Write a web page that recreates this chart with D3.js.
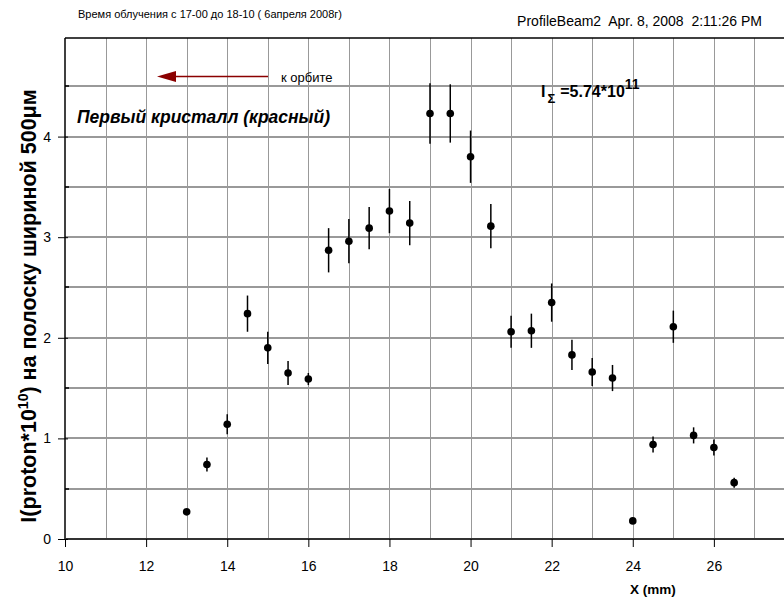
<!DOCTYPE html>
<html>
<head>
<meta charset="utf-8">
<script src="https://d3js.org/d3.v7.min.js"></script>
<style>
  body { margin: 0; background: #fff; }
  text { font-family: "Liberation Sans", Arial, sans-serif; }
</style>
</head>
<body>
<script>
// data
var xPos = [13, 13.5, 14, 14.5, 15, 15.5, 16, 16.5, 17, 17.5, 18, 18.5, 19, 19.5,
            20, 20.5, 21, 21.5, 22, 22.5, 23, 23.5, 24, 24.5, 25, 25.5, 26, 26.5];
var intensity = [0.27, 0.74, 1.14, 2.24, 1.90, 1.65, 1.59, 2.87, 2.96, 3.09, 3.26, 3.14, 4.23, 4.23,
                 3.80, 3.11, 2.06, 2.07, 2.35, 1.83, 1.66, 1.60, 0.18, 0.94, 2.11, 1.03, 0.91, 0.56];
var errors = [0.02, 0.07, 0.10, 0.18, 0.16, 0.12, 0.06, 0.22, 0.22, 0.21, 0.22, 0.22, 0.30, 0.29,
              0.26, 0.22, 0.16, 0.17, 0.19, 0.15, 0.14, 0.13, 0.02, 0.08, 0.16, 0.08, 0.08, 0.05];
var xTicks = [10, 12, 14, 16, 18, 20, 22, 24, 26];
var yTicks = [0, 1, 2, 3, 4];
var xGridValues = [11, 12, 13, 14, 15, 16, 17, 18, 19, 20, 21, 22, 23, 24, 25, 26, 27];
var yGridValues = [0.5, 1, 1.5, 2, 2.5, 3, 3.5, 4, 4.5];

var svgWidth = 784;
var svgHeight = 600;

// plot box (right side runs off the page, like in the original)
var plotLeft = 65, plotTop = 38, plotBottom = 539, plotRight = 795;

var svg = d3.select("body")
  .append("svg")
  .attr("width", svgWidth)
  .attr("height", svgHeight);

var x = d3.scaleLinear().domain([10, 28]).range([plotLeft, plotRight]);
var y = d3.scaleLinear().domain([0, 4.98]).range([plotBottom, plotTop]);

var points = xPos.map(function(d, i) {
  return { x: d, y: intensity[i], err: errors[i] };
});

// vertical grid
svg.append("g")
  .selectAll("line")
  .data(xGridValues)
  .enter()
  .append("line")
  .attr("x1", d => Math.round(x(d)) + 0.5).attr("x2", d => Math.round(x(d)) + 0.5)
  .attr("y1", plotTop).attr("y2", plotBottom)
  .attr("stroke", "#999")
  .attr("stroke-width", 1);

// horizontal grid
svg.append("g")
  .selectAll("line")
  .data(yGridValues)
  .enter()
  .append("line")
  .attr("x1", plotLeft).attr("x2", svgWidth)
  .attr("y1", d => Math.round(y(d))).attr("y2", d => Math.round(y(d)))
  .attr("stroke", "#999")
  .attr("stroke-width", 2);

// frame
svg.append("line")
  .attr("x1", plotLeft).attr("x2", svgWidth)
  .attr("y1", plotTop).attr("y2", plotTop)
  .attr("stroke", "#000").attr("stroke-width", 1.5);
svg.append("line")
  .attr("x1", plotLeft).attr("x2", plotLeft)
  .attr("y1", plotTop).attr("y2", plotBottom)
  .attr("stroke", "#000").attr("stroke-width", 1.5);

// minor ticks on y axis
svg.append("g")
  .selectAll("line")
  .data(yGridValues.filter(d => d % 1 !== 0))
  .enter()
  .append("line")
  .attr("x1", plotLeft).attr("x2", plotLeft + 4)
  .attr("y1", d => Math.round(y(d))).attr("y2", d => Math.round(y(d)))
  .attr("stroke", "#000")
  .attr("stroke-width", 1.5);

// axes
var bottomAxis = d3.axisBottom(x).tickValues(xTicks).tickSize(8).tickSizeOuter(0);
var leftAxis = d3.axisLeft(y).tickValues(yTicks).tickFormat(d3.format("d")).tickSize(7).tickSizeOuter(0);

var xAxisG = svg.append("g")
  .attr("transform", `translate(0, ${plotBottom})`)
  .call(bottomAxis);
xAxisG.select(".domain").attr("stroke", "#333").attr("stroke-width", 2)
  .attr("d", `M${plotLeft},0H${svgWidth}`);
xAxisG.selectAll("text").attr("font-size", 14).attr("fill", "#000").attr("dy", "1.5em");

var yAxisG = svg.append("g")
  .attr("transform", `translate(${plotLeft}, 0)`)
  .call(leftAxis);
yAxisG.select(".domain").remove();
yAxisG.selectAll(".tick line").attr("x2", -7).attr("x1", 3);
yAxisG.selectAll("text").attr("font-size", 14).attr("fill", "#000").attr("x", -14);

// error bars
svg.append("g")
  .selectAll("line")
  .data(points)
  .enter()
  .append("line")
  .attr("x1", d => x(d.x)).attr("x2", d => x(d.x))
  .attr("y1", d => y(d.y - d.err)).attr("y2", d => y(d.y + d.err))
  .attr("stroke", "#000")
  .attr("stroke-width", 1.5);

// points
svg.append("g")
  .selectAll("circle")
  .data(points)
  .enter()
  .append("circle")
  .attr("cx", d => x(d.x))
  .attr("cy", d => y(d.y))
  .attr("r", 3.8)
  .attr("fill", "#000");

// axis labels
var yLabel = svg.append("text")
  .attr("transform", "translate(36, 306) rotate(-90)")
  .attr("text-anchor", "middle")
  .attr("font-size", 21.5)
  .attr("font-weight", "bold");
yLabel.append("tspan").text("I(proton*10");
yLabel.append("tspan").attr("dy", -8).attr("font-size", 14).text("10");
yLabel.append("tspan").attr("dy", 8).text(") на полоску шириной 500μм");

svg.append("text")
  .attr("x", 653).attr("y", 594)
  .attr("text-anchor", "middle")
  .attr("font-size", 13.5)
  .attr("font-weight", "bold")
  .text("X (mm)");

// headers
svg.append("text")
  .attr("x", 78).attr("y", 18)
  .attr("font-size", 11)
  .text("Время облучения с 17-00 до 18-10 ( 6апреля 2008г)");

svg.append("text")
  .attr("x", 762).attr("y", 26)
  .attr("text-anchor", "end")
  .attr("font-size", 14)
  .style("white-space", "pre")
  .text("ProfileBeam2  Apr. 8, 2008  2:11:26 PM");

// arrow "к орбите"
svg.append("line")
  .attr("x1", 268).attr("x2", 172)
  .attr("y1", 76.5).attr("y2", 76.5)
  .attr("stroke", "#8b0000")
  .attr("stroke-width", 1.3);
svg.append("path")
  .attr("d", "M157,76.5L176,71L176,82Z")
  .attr("fill", "#8b0000");
svg.append("text")
  .attr("x", 281).attr("y", 81.5)
  .attr("font-size", 13)
  .text("к орбите");

svg.append("text")
  .attr("x", 77).attr("y", 123)
  .attr("font-size", 17.5)
  .attr("font-weight", "bold")
  .attr("font-style", "italic")
  .text("Первый кристалл (красный)");

// total intensity
var iSum = svg.append("text")
  .attr("x", 541).attr("y", 97)
  .attr("font-size", 16)
  .attr("font-weight", "bold");
iSum.append("tspan").text("I");
iSum.append("tspan").attr("dx", 2).attr("dy", 6).attr("font-size", 13).text("Σ");
iSum.append("tspan").attr("dx", 5).attr("dy", -6).text("=5.74*10");
iSum.append("tspan").attr("dy", -8).attr("font-size", 14).text("11");
</script>
</body>
</html>
